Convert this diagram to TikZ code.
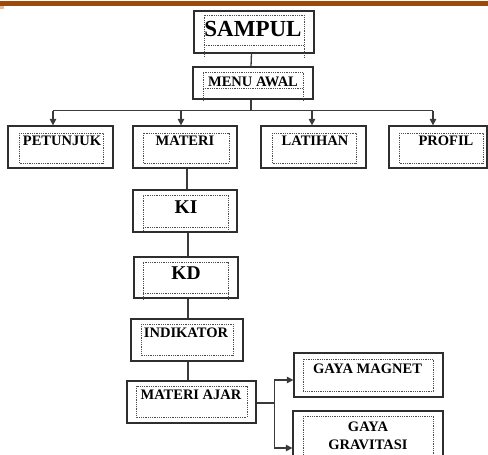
\documentclass[tikz,border=0pt]{standalone}
\usepackage{fontspec}
\setmainfont{Liberation Serif}
\usetikzlibrary{arrows.meta,calc}
\definecolor{barbrown}{HTML}{9B4A0B}
\definecolor{bartan}{HTML}{E9BE98}
\definecolor{boxline}{HTML}{2E2E2E}
\definecolor{linegray}{HTML}{3A3A3A}
\tikzset{
  box/.style={draw=boxline, line width=1.3pt, fill=white, inner sep=0pt},
  inner/.style={draw=black!70, densely dotted, line width=0.8pt},
  conn/.style={draw=linegray, line width=1.3pt},
  arr/.style={conn, -{Triangle[length=6.5pt,width=6.5pt]}},
  lbl/.style={anchor=base, inner sep=0pt, font=\bfseries\fontsize{14.5}{16}\selectfont},
  biglbl/.style={anchor=base, inner sep=0pt, font=\bfseries\fontsize{19.5}{22}\selectfont},
}
\begin{document}
\begin{tikzpicture}[x=1pt,y=-1pt]
\clip (0,0) rectangle (488,455);
\fill[white] (0,0) rectangle (488,455);
% top bar
\fill[barbrown] (0,1) rectangle (488,6);
\fill[bartan] (0,6) rectangle (4,9);

% boxes
\node[box, minimum width=120, minimum height=42] (sampul) at (254,32) {};
\node[box, minimum width=120, minimum height=32] (menu) at (253,83) {};
\node[box, minimum width=105, minimum height=42] (petunjuk) at (60.5,147) {};
\node[box, minimum width=104, minimum height=42] (materi) at (185,147) {};
\node[box, minimum width=105, minimum height=42] (latihan) at (313.5,147) {};
\node[box, minimum width=98, minimum height=42] (profil) at (438,147) {};
\node[box, minimum width=104, minimum height=42] (ki) at (185,211) {};
\node[box, minimum width=104, minimum height=41] (kd) at (186,277.5) {};
\node[box, minimum width=112, minimum height=42] (indikator) at (187,340) {};
\node[box, minimum width=129, minimum height=42] (ajar) at (191.5,402) {};
\node[box, minimum width=149, minimum height=44] (magnet) at (368.5,375) {};
\node[box, minimum width=150, minimum height=60] (gravitasi) at (368,441) {};

% inner dotted frames
\draw[inner] (204,57) -- (204,15) -- (304,15) -- (304,57);
\draw[inner] (204,45) -- (304,45);
\draw[inner] (203,101) -- (203,72) -- (303,72) -- (303,101);
\draw[inner] (203,88) -- (303,88);
\draw[inner] (19,133) rectangle (103,163);
\draw[inner] (143,133) rectangle (229,163);
\draw[inner] (272,133) rectangle (356,163);
\draw[inner] (399,133) rectangle (483,163);
\draw[inner] (143,231) -- (143,195) -- (228,195) -- (228,231);
\draw[inner] (143,227) -- (228,227);
\draw[inner] (143,300) -- (143,262) -- (228,262) -- (228,300);
\draw[inner] (143,293) -- (228,293);
\draw[inner] (141,324) rectangle (233,355);
\draw[inner] (136,386) rectangle (247,417);
\draw[inner] (303,359) rectangle (433,391);
\draw[inner] (303,416) rectangle (433,470);

% labels
\node[biglbl, font=\bfseries\fontsize{23}{26}\selectfont] (tsampul) at (253,36) {SAMPUL};
\node[lbl] (tmenu) at (253,86) {MENU AWAL};
\node[lbl] (tpetunjuk) at (62,145) {PETUNJUK};
\node[lbl] (tmateri) at (185,145) {MATERI};
\node[lbl] (tlatihan) at (315,145) {LATIHAN};
\node[lbl] (tprofil) at (446,145) {PROFIL};
\node[biglbl] (tki) at (186,213) {KI};
\node[biglbl] (tkd) at (186,279) {KD};
\node[lbl] (tindikator) at (186,337) {INDIKATOR};
\node[lbl] (tajar) at (191,399) {MATERI AJAR};
\node[lbl] (tmagnet) at (367.5,373) {GAYA MAGNET};
\node[lbl] (tgaya) at (368,431) {GAYA};
\node[lbl] (tgrav) at (368,449) {GRAVITASI};

% connectors
\coordinate (inpet) at ([xshift=-7.5]petunjuk.north);
\coordinate (inmat) at ([xshift=-4]materi.north);
\coordinate (inlat) at ([xshift=-1.5]latihan.north);
\coordinate (inpro) at ([xshift=-5]profil.north);
\draw[conn] ([xshift=-2.5]sampul.south) -- ([xshift=-2]menu.north);
\draw[conn] ([xshift=-2]menu.south) -- ++(0,11) coordinate (bus);
\draw[conn] (bus -| inpet) -- (bus -| inpro);
\draw[arr] (bus -| inpet) -- (inpet);
\draw[arr] (bus -| inmat) -- (inmat);
\draw[arr] (bus -| inlat) -- (inlat);
\draw[arr] (bus -| inpro) -- (inpro);
\draw[conn] ([xshift=2]materi.south) -- ([xshift=2]ki.north);
\draw[conn] ([xshift=3]ki.south) -- ([xshift=2]kd.north);
\draw[conn] ([xshift=2]kd.south) -- ([xshift=1]indikator.north);
\draw[conn] ([xshift=1]indikator.south) -- ([xshift=-3.5]ajar.north);
\draw[conn] ([yshift=-1]ajar.east) -- ++(18,0) coordinate (split);
\draw[arr] (split) |- ([yshift=-5]magnet.west);
\draw[arr] (split) |- ([yshift=-7]gravitasi.west);
\end{tikzpicture}
\end{document}
